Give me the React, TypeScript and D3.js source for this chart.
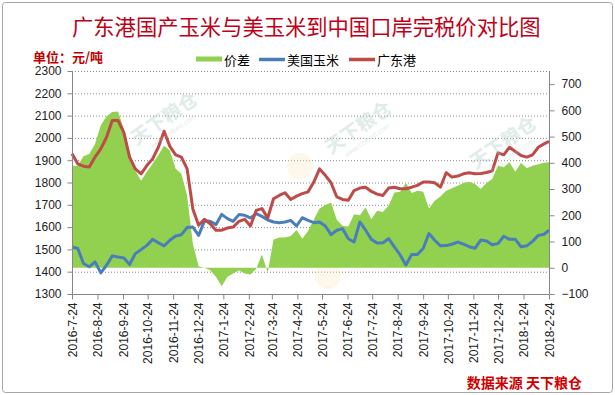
import { useEffect, useRef } from 'react';
import * as d3 from 'd3';

// weekly readings, last point is the 2018-2-24 end date
const startDate = '2016-07-24';
const endDate = '2018-02-24';

const tickLabels = [
  '2016-7-24', '2016-8-24', '2016-9-24', '2016-10-24', '2016-11-24', '2016-12-24',
  '2017-1-24', '2017-2-24', '2017-3-24', '2017-4-24', '2017-5-24', '2017-6-24',
  '2017-7-24', '2017-8-24', '2017-9-24', '2017-10-24', '2017-11-24', '2017-12-24',
  '2018-1-24', '2018-2-24',
];

const guangdong = [
  1929, 1884, 1873, 1869, 1914, 1951, 2003, 2078, 2078, 2025,
  1914, 1861, 1839, 1876, 1906, 1958, 2030, 1962, 1924, 1914,
  1861, 1680, 1608, 1635, 1615, 1586, 1586, 1596, 1600, 1626,
  1635, 1605, 1675, 1683, 1641, 1727, 1742, 1754, 1724, 1739,
  1750, 1758, 1802, 1861, 1832, 1799, 1735, 1724, 1720, 1764,
  1775, 1779, 1760, 1748, 1742, 1775, 1779, 1772, 1772, 1779,
  1787, 1802, 1802, 1799, 1779, 1844, 1824, 1829, 1839, 1844,
  1839, 1840, 1845, 1852, 1933, 1924, 1958, 1939, 1921, 1914,
  1924, 1958, 1973, 1984,
];

const usCorn = [
  1511, 1504, 1437, 1422, 1444, 1395, 1429, 1471, 1466, 1462,
  1432, 1481, 1499, 1518, 1545, 1530, 1516, 1541, 1560, 1566,
  1598, 1600, 1563, 1627, 1626, 1611, 1657, 1638, 1626, 1656,
  1653, 1641, 1660, 1648, 1632, 1623, 1620, 1623, 1630, 1605,
  1642, 1630, 1620, 1623, 1605, 1566, 1586, 1593, 1548, 1533,
  1623, 1586, 1545, 1529, 1530, 1548, 1511, 1475, 1430, 1477,
  1477, 1504, 1571, 1541, 1516, 1517, 1523, 1533, 1524, 1512,
  1505, 1542, 1538, 1521, 1526, 1559, 1545, 1545, 1512, 1516,
  1536, 1563, 1568, 1586,
];

const spread = [
  389, 389, 425, 434, 472, 543, 578, 594, 596, 530,
  441, 370, 332, 366, 396, 430, 466, 447, 377, 358,
  275, 90, 6, 0, -9, -34, -70, -34, -22, -9,
  -22, -26, -4, 51, -19, 108, 115, 115, 121, 144,
  111, 140, 183, 226, 239, 249, 183, 160, 157, 204,
  200, 230, 185, 217, 213, 236, 287, 290, 323, 285,
  294, 290, 226, 255, 272, 294, 303, 313, 323, 328,
  319, 300, 323, 338, 389, 383, 402, 366, 400, 379,
  389, 395, 400, 402,
];

const leftTicks = [1300, 1400, 1500, 1600, 1700, 1800, 1900, 2000, 2100, 2200, 2300];
const rightTicks = [-100, 0, 100, 200, 300, 400, 500, 600, 700];

const legendNames = ['价差', '美国玉米', '广东港'];
const colors = { spread: '#92D050', us: '#4A7EBB', gd: '#BE4B48' };

const W = 615;
const H = 395;
const CJK = '"Noto Sans CJK SC", "Noto Sans", sans-serif';
const LAT = '"Liberation Sans", Arial, sans-serif';

export default function App() {
  const svgRef = useRef<SVGSVGElement>(null);

  useEffect(() => {
    if (!svgRef.current) return;
    const svg = d3.select(svgRef.current);
    svg.selectAll('*').remove();

    const parse = d3.timeParse('%Y-%m-%d');
    const t0 = parse(startDate) as Date;
    const t1 = parse(endDate) as Date;
    const dates = guangdong.map((_, i) =>
      i === guangdong.length - 1 ? t1 : d3.timeDay.offset(t0, i * 7));

    const left = 72, right = 549, top = 71, bottom = 294;

    const x = d3.scaleTime().domain([t0, t1]).range([left, right]);
    const yL = d3.scaleLinear().domain([1300, 2300]).range([bottom, top]);
    const yR = d3.scaleLinear().domain([-100, 750]).range([bottom, top]);

    svg.append('rect').attr('width', W).attr('height', H).attr('fill', '#fff');
    svg.append('rect')
      .attr('x', 2.5).attr('y', 2.5).attr('width', 610).attr('height', 390)
      .attr('rx', 3).attr('fill', 'none').attr('stroke', '#a6a6a6');

    // title
    svg.append('text')
      .attr('x', 72).attr('y', 25)
      .attr('dominant-baseline', 'central')
      .style('font-family', CJK).style('font-size', '21.3px')
      .attr('fill', '#C00018')
      .text('广东港国产玉米与美玉米到中国口岸完税价对比图');

    svg.append('text')
      .attr('x', 33).attr('y', 56)
      .attr('dominant-baseline', 'central')
      .style('font-family', CJK).style('font-size', '13px').style('font-weight', 'bold')
      .attr('fill', '#C00000')
      .text('单位：元/吨');

    // gridlines
    svg.append('g').selectAll('line')
      .data(leftTicks.filter(d => d > 1300))
      .enter().append('line')
      .attr('x1', left).attr('x2', right)
      .attr('y1', d => yL(d) + 0.5).attr('y2', d => yL(d) + 0.5)
      .attr('stroke', '#8a8a8a').attr('stroke-dasharray', '1 2');

    // watermark logos
    const logos = [[300, 166], [328, 276]];
    svg.append('g').selectAll('circle').data(logos).enter().append('circle')
      .attr('cx', d => d[0]).attr('cy', d => d[1]).attr('r', 13)
      .attr('fill', '#f8e2b0').attr('opacity', 0.25);

    // 价差 area
    const area = d3.area<number>()
      .x((_, i) => x(dates[i]))
      .y0(yR(0))
      .y1(d => yR(d));
    svg.append('path').datum(spread)
      .attr('d', area)
      .attr('fill', colors.spread);

    const line = (yScale: d3.ScaleLinear<number, number>) => d3.line<number>()
      .x((_, i) => x(dates[i]))
      .y(d => yScale(d));

    svg.append('path').datum(usCorn)
      .attr('d', line(yL))
      .attr('fill', 'none').attr('stroke', colors.us)
      .attr('stroke-width', 3).attr('stroke-linejoin', 'round');

    svg.append('path').datum(guangdong)
      .attr('d', line(yL))
      .attr('fill', 'none').attr('stroke', colors.gd)
      .attr('stroke-width', 3).attr('stroke-linejoin', 'round');

    // watermark text
    const marks = [[168, 124], [362, 133], [507, 148]];
    const wm = svg.append('g').selectAll('g').data(marks).enter().append('g')
      .attr('transform', d => `translate(${d[0]},${d[1]}) rotate(-35)`)
      .attr('opacity', 0.35);
    wm.append('text')
      .attr('text-anchor', 'middle')
      .style('font-family', CJK).style('font-size', '19px').style('font-weight', 'bold')
      .attr('fill', '#a9cbc4')
      .text('天下粮仓');
    wm.append('text')
      .attr('y', 11).attr('text-anchor', 'middle')
      .style('font-family', LAT).style('font-size', '7px')
      .attr('fill', '#a9cbc4')
      .text('www.cofeed.com');

    // axes
    const axisColor = '#868686';
    const gLeft = svg.append('g').attr('transform', `translate(${left + 0.5},0)`);
    gLeft.call(d3.axisLeft(yL).tickValues(leftTicks).tickSize(5).tickPadding(6).tickFormat(d3.format('d')));

    const gRight = svg.append('g').attr('transform', `translate(${right + 0.5},0)`);
    gRight.call(d3.axisRight(yR).tickValues(rightTicks).tickSize(5).tickPadding(7).tickFormat(d3.format('d')));

    const tickDates = tickLabels.map(s => parse(s.replace(/-(\d)(?=-|$)/g, '-0$1')) as Date);
    const gBottom = svg.append('g').attr('transform', `translate(0,${bottom + 0.5})`);
    gBottom.call(d3.axisBottom(x).tickValues(tickDates).tickSize(5)
      .tickFormat((_, i) => tickLabels[i]));
    gBottom.selectAll('text')
      .attr('transform', 'rotate(-90)')
      .attr('x', -8).attr('y', 0).attr('dy', '0.35em')
      .attr('text-anchor', 'end');

    [gLeft, gRight, gBottom].forEach(g => {
      g.select('.domain').attr('stroke', axisColor);
      g.selectAll('.tick line').attr('stroke', axisColor);
      g.selectAll('text').style('font-family', LAT).style('font-size', '12px').attr('fill', '#222');
    });
    // no outer caps on the axis lines
    gLeft.select('.domain').attr('d', `M0,${bottom}V${top}`);
    gRight.select('.domain').attr('d', `M0,${bottom}V${top}`);
    gBottom.select('.domain').attr('d', `M${left},0H${right}`);

    // legend
    const legend = svg.append('g').attr('transform', 'translate(196,59)');
    const items = [
      { name: legendNames[0], x: 0, color: colors.spread, kind: 'rect' },
      { name: legendNames[1], x: 63, color: colors.us, kind: 'line' },
      { name: legendNames[2], x: 153, color: colors.gd, kind: 'line' },
    ];
    items.forEach(it => {
      if (it.kind === 'rect') {
        legend.append('rect').attr('x', it.x).attr('y', -2.5).attr('width', 26).attr('height', 5)
          .attr('fill', it.color);
      } else {
        legend.append('line').attr('x1', it.x).attr('x2', it.x + 26).attr('y1', 0.5).attr('y2', 0.5)
          .attr('stroke', it.color).attr('stroke-width', 3.5);
      }
      legend.append('text')
        .attr('x', it.x + 28).attr('y', 0)
        .attr('dominant-baseline', 'central')
        .style('font-family', CJK).style('font-size', '13px')
        .attr('fill', '#000')
        .text(it.name);
    });

    // source
    svg.append('text')
      .attr('x', 582).attr('y', 382)
      .attr('text-anchor', 'end').attr('dominant-baseline', 'central')
      .style('font-family', CJK).style('font-size', '14px').style('font-weight', 'bold')
      .attr('fill', '#D00000')
      .text('数据来源 天下粮仓');
  }, []);

  return (
    <svg ref={svgRef} width={W} height={H}
      style={{ position: 'absolute', left: 0, top: 0, display: 'block' }} />
  );
}
